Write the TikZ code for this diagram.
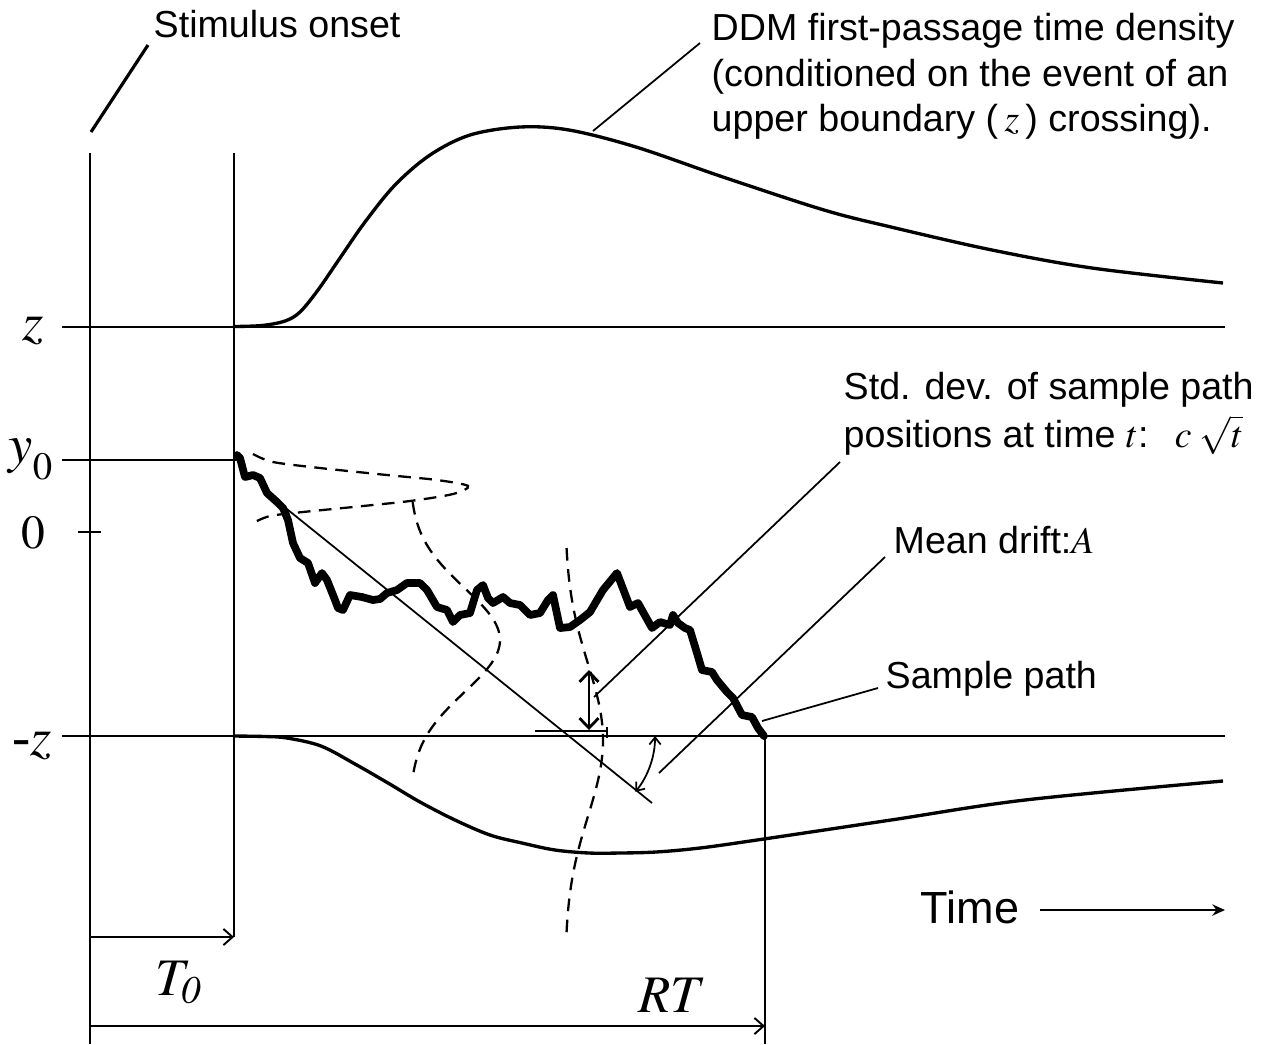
\documentclass[tikz,border=0pt]{standalone}
\usepackage{mathptmx}
\usepackage[no-math]{fontspec}
\setmainfont{Liberation Sans}
\newfontfamily\serifface{Liberation Serif}
\usetikzlibrary{arrows.meta}

\begin{document}
\begin{tikzpicture}[x=0.01cm, y=-0.01cm,
  axis/.style={line width=0.55pt},
  leader/.style={line width=0.5pt},
  density/.style={line width=0.95pt, line join=round},
  samplepath/.style={line width=2.2pt, line join=round, line cap=round},
  spread/.style={line width=0.65pt, dash pattern=on 3.6pt off 2.4pt},
  txt/.style={inner sep=0pt, font=\fontsize{10.7}{12.8}\selectfont, align=left},
  sym/.style={inner sep=0pt, font=\fontsize{15.5}{17}\selectfont},
  barb/.style={-{Straight Barb[length=2.6pt,width=4.6pt]}}
]
\useasboundingbox (0,0) rectangle (1272,1044);

% time axes: stimulus onset, end of non-decision time, response
\coordinate (onsetTop) at (90,153);
\coordinate (onsetBot) at (90,1044);
\coordinate (t0Top) at (234,153);
\coordinate (t0Bot) at (234,937);
\coordinate (rtTop) at (765,736);
\coordinate (rtBot) at (765,1044);
\draw[axis] (onsetTop) -- (onsetBot);
\draw[axis] (t0Top) -- (t0Bot);
\draw[axis] (rtTop) -- (rtBot);

% boundaries and start point
\draw[axis] (62,327) -- (1225,327);
\draw[axis] (62,460) -- (238,460);
\draw[axis] (78,532) -- (101,532);
\draw[axis] (62,736) -- (1225,736);

% duration arrows
\coordinate (t0From) at (90,937);
\coordinate (rtFrom) at (90,1026);
\coordinate (rtTo) at (765,1026);
\draw[axis,barb] (t0From) -- (t0Bot);
\draw[axis,barb] (rtFrom) -- (rtTo);

% level labels
\node[sym, anchor=base] (zlab) at (33,340) {$z$};
\node[sym, anchor=base west] (y0lab) at (8,462)
  {$y$\raisebox{-5pt}{\fontsize{11}{12}\selectfont$0$}};
\node[sym, font=\fontsize{13.5}{15}\selectfont, anchor=base] (zerolab) at (33,548) {$0$};
\node[sym, anchor=base] (mzlab) at (32,755) {{\serifface\itshape -}$z$};
\node[inner sep=0pt, font=\fontsize{15}{17}\selectfont, anchor=base west] (t0lab) at (155,995) {$T_{\mathit{0}}$};
\node[inner sep=0pt, font=\fontsize{15}{17}\selectfont, anchor=base west] (rtlab) at (638,1012) {$RT$};

% first-passage densities at the two boundaries
\draw[density] plot[smooth, tension=0.55] coordinates {
  (233,326.5) (262,325.5) (285,321) (300,312) (318,290) (340,258) (365,222)
  (395,185) (430,155) (470,135) (520,127) (569,130) (636,147) (723,177)
  (824,210) (891,227) (992,250) (1092,268) (1223,283)};
\draw[density] plot[smooth, tension=0.55] coordinates {
  (233,736) (265,736.5) (287,738) (321,746) (355,764) (388,783) (420,802)
  (455,820) (490,835) (522,843) (555,850) (589,853) (620,853) (656,852)
  (700,848) (757,840) (891,820) (1025,800) (1223,781)};

% spread of sample paths at three times
\draw[spread] plot[smooth] coordinates {
  (253,454) (273,462) (320,468) (387,475) (437,480) (468,486) (453,494)
  (410,501) (353,507) (303,512) (270,516) (253,523)};
\draw[spread] plot[domain=502:773, samples=80, variable=\t]
  ({410+90*exp(0-0.5*((\t-640)/52)*((\t-640)/52))}, {\t});
\draw[spread] plot[domain=548:937, samples=80, variable=\t]
  ({565+38*exp(0-0.5*((\t-740)/76)*((\t-740)/76))}, {\t});

% mean drift line
\coordinate (driftA) at (267,493);
\coordinate (driftB) at (652,803);
\draw[leader] (driftA) -- (driftB);

% sample path
\draw[samplepath] (237,455) -- (240,458) -- (245,477) -- (253,475) -- (260,478)
  -- (267,493) -- (277,502) -- (283,508) -- (288,520) -- (293,543) -- (300,558)
  -- (308,563) -- (315,583) -- (322,573) -- (327,580) -- (335,600) -- (338,608)
  -- (343,610) -- (350,595) -- (362,597) -- (373,600) -- (380,599) -- (387,593)
  -- (397,590) -- (407,583) -- (420,583) -- (427,590) -- (437,607) -- (447,610)
  -- (453,622) -- (460,615) -- (470,613) -- (477,590) -- (483,585) -- (488,598)
  -- (493,603) -- (503,597) -- (510,603) -- (520,605) -- (530,615) -- (540,613)
  -- (548,600) -- (553,595) -- (560,628) -- (570,627) -- (580,620) -- (590,612)
  -- (603,590) -- (617,573) -- (630,607) -- (638,603) -- (652,628) -- (660,622)
  -- (670,625) -- (673,615) -- (678,623) -- (685,628) -- (690,630) -- (697,653)
  -- (702,670) -- (712,672) -- (717,680) -- (727,692) -- (733,698) -- (742,715)
  -- (752,717) -- (758,728) -- (764,736);

% standard deviation marker
\coordinate (sdL) at (535,731);
\coordinate (sdR) at (607,731);
\draw[leader] (sdL) -- (sdR);
\draw[leader] (607,727) -- (607,738);
\coordinate (sdTop) at (589,670);
\coordinate (sdBot) at (589,730);
\draw[line width=0.8pt, {Straight Barb[length=2.8pt,width=5.4pt]}-{Straight Barb[length=2.8pt,width=5.4pt]}] (sdTop) -- (sdBot);

% drift angle
\draw[leader, {Straight Barb[length=2pt,width=3.2pt]}-{Straight Barb[length=2pt,width=3.2pt]}]
  (635.4,791.8) arc[start angle=38.8, end angle=0, radius=89];

% callout texts (anchored at the baseline of their last line)
\node[txt, anchor=base west] (onsetlab) at (153,37) {Stimulus onset};
\node[txt, anchor=base west] (ddmlab) at (711,131)
  {DDM first-passage time density\\(conditioned on the event of an\\upper boundary (\,$z$\,) crossing).};
\node[txt, font=\fontsize{10.7}{13.4}\selectfont, anchor=base west] (sdlab) at (843,447)
  {Std. dev. of sample path\\positions at time $t$:\hspace{0.7em}$c\;$\smash{$\sqrt{t}$}};
\node[txt, anchor=base west] (driftlab) at (893,553) {Mean drift:$A$};
\node[txt, anchor=base west] (pathlab) at (885,688) {Sample path};
\node[inner sep=0pt, font=\fontsize{12.8}{15}\selectfont, anchor=base west] (timelab) at (920,923) {Time};

% callout leaders
\coordinate (onsetA) at (91,132);
\coordinate (onsetB) at (148,45);
\draw[line width=0.9pt] (onsetA) -- (onsetB);
\coordinate (ddmA) at (593,131);
\coordinate (ddmB) at (700,43);
\draw[leader] (ddmA) -- (ddmB);
\coordinate (sdA) at (594,697);
\coordinate (sdB) at (840,462);
\draw[leader] (sdA) -- (sdB);
\coordinate (driftC) at (659,773);
\coordinate (driftD) at (885,557);
\draw[leader] (driftC) -- (driftD);
\coordinate (pathA) at (762,721);
\coordinate (pathB) at (878,688);
\draw[leader] (pathA) -- (pathB);

% time arrow
\coordinate (timeA) at (1040,910);
\coordinate (timeB) at (1225,910);
\draw[line width=0.65pt, -{Stealth[length=3.6pt,width=3.2pt]}] (timeA) -- (timeB);
\end{tikzpicture}
\end{document}
